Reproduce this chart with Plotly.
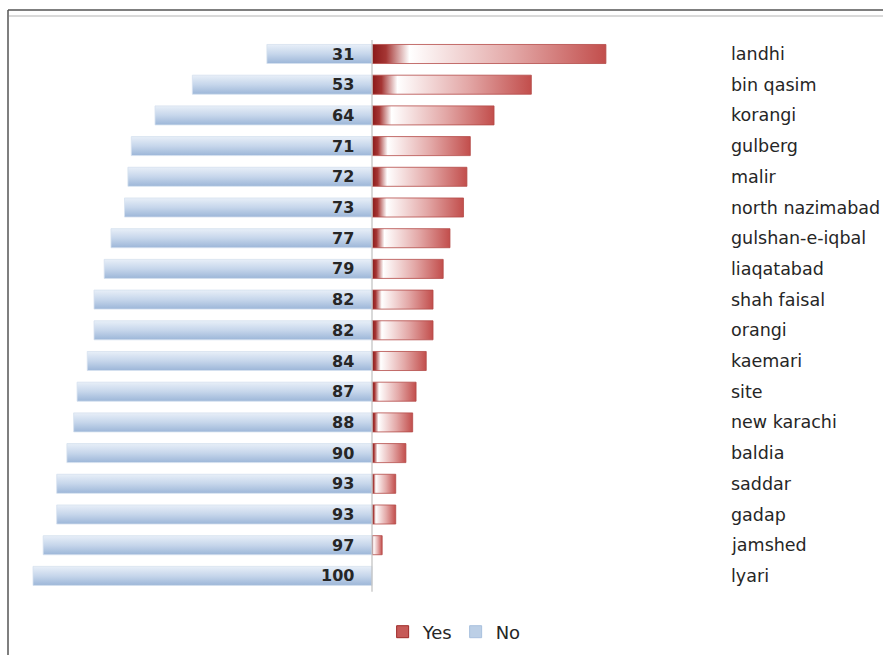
import plotly.graph_objects as go

# Karachi towns: share of "No" vs "Yes" responses (percent)
districts = ["landhi", "bin qasim", "korangi", "gulberg", "malir", "north nazimabad",
             "gulshan-e-iqbal", "liaqatabad", "shah faisal", "orangi", "kaemari", "site",
             "new karachi", "baldia", "saddar", "gadap", "jamshed", "lyari"]
no_pct = [31, 53, 64, 71, 72, 73, 77, 79, 82, 82, 84, 87, 88, 90, 93, 93, 97, 100]
yes_pct = [69, 47, 36, 29, 28, 27, 23, 21, 18, 18, 16, 13, 12, 10, 7, 7, 3, 0]

W, H = 883, 655
half = 0.31  # half bar thickness in row units
FONT = "DejaVu Sans, Verdana, sans-serif"

red_scale = [[0.0, "#8a1818"], [0.06, "#a53634"], [0.16, "#ffffff"], [0.6, "#e3a8a7"], [1.0, "#c24e4c"]]
blue_scale = [[0.0, "#e8eff8"], [0.5, "#c6d6eb"], [1.0, "#9cb6d8"]]

fig = go.Figure()

n = len(districts)
for i, (name, n_val, y_val) in enumerate(zip(districts, no_pct, yes_pct)):
    y0, y1 = i - half, i + half
    # "Yes" bar to the right of the axis, horizontal gradient
    if y_val > 0:
        fig.add_trace(go.Scatter(
            x=[0, y_val, y_val, 0, 0], y=[y0, y0, y1, y1, y0],
            mode="lines", fill="toself",
            line=dict(color="#b44a48", width=0.8),
            fillgradient=dict(type="horizontal", colorscale=red_scale, start=0, stop=y_val),
            name="Yes", showlegend=False, hoverinfo="skip",
        ))
    # "No" bar to the left of the axis, vertical gradient
    fig.add_trace(go.Scatter(
        x=[0, -n_val, -n_val, 0, 0], y=[y0, y0, y1, y1, y0],
        mode="lines", fill="toself",
        line=dict(color="#d6e1ef", width=0.8),
        fillgradient=dict(type="vertical", colorscale=blue_scale, start=y0, stop=y1),
        name="No", showlegend=False, hoverinfo="skip",
    ))

# legend keys
fig.add_trace(go.Bar(x=[None], y=[None], name="Yes", orientation="h",
                     marker=dict(color="#c65a58", line=dict(color="#9e2a28", width=1))))
fig.add_trace(go.Bar(x=[None], y=[None], name="No", orientation="h",
                     marker=dict(color="#bccfe6", line=dict(color="#a9c0de", width=1))))

# value labels for the "No" series and category names on the right
for i, (name, n_val) in enumerate(zip(districts, no_pct)):
    fig.add_annotation(x=-4.6, y=i, text=f"<b>{n_val}</b>", showarrow=False,
                       xanchor="right", yanchor="middle",
                       font=dict(family=FONT, size=16, color="#262626"))
    fig.add_annotation(x=105.2, y=i, text=name, showarrow=False,
                       xanchor="left", yanchor="middle",
                       font=dict(family=FONT, size=17.5, color="#262626"))

# central axis line
fig.add_shape(type="line", xref="x", yref="y", x0=0, x1=0, y0=-0.46, y1=n - 0.48,
              line=dict(color="#c0c0c0", width=1.2))

# chart frame
fig.add_shape(type="line", xref="paper", yref="paper", x0=8 / W, x1=1, y0=1 - 10 / H, y1=1 - 10 / H,
              line=dict(color="#000000", width=1.2))
fig.add_shape(type="line", xref="paper", yref="paper", x0=9 / W, x1=1, y0=1 - 16 / H, y1=1 - 16 / H,
              line=dict(color="#d9d9d9", width=2))
fig.add_shape(type="line", xref="paper", yref="paper", x0=8 / W, x1=8 / W, y0=0, y1=1 - 10 / H,
              line=dict(color="#555555", width=1.5))

px_per_unit = 3.39
x_zero = 372
row0, row_step = 54, 30.7
fig.update_layout(
    width=W, height=H,
    margin=dict(l=0, r=0, t=0, b=0),
    paper_bgcolor="white", plot_bgcolor="white",
    xaxis=dict(range=[-x_zero / px_per_unit, (W - x_zero) / px_per_unit],
               visible=False, fixedrange=True),
    yaxis=dict(range=[(H - row0) / row_step, -row0 / row_step],
               visible=False, fixedrange=True),
    showlegend=True,
    legend=dict(orientation="h", x=0.516, xanchor="center", y=1 - 632 / H, yanchor="middle",
                font=dict(family=FONT, size=18, color="#262626"),
                itemwidth=30, entrywidth=28, entrywidthmode="pixels",
                tracegroupgap=0, bgcolor="rgba(0,0,0,0)"),
)

fig.write_html("out.html")
